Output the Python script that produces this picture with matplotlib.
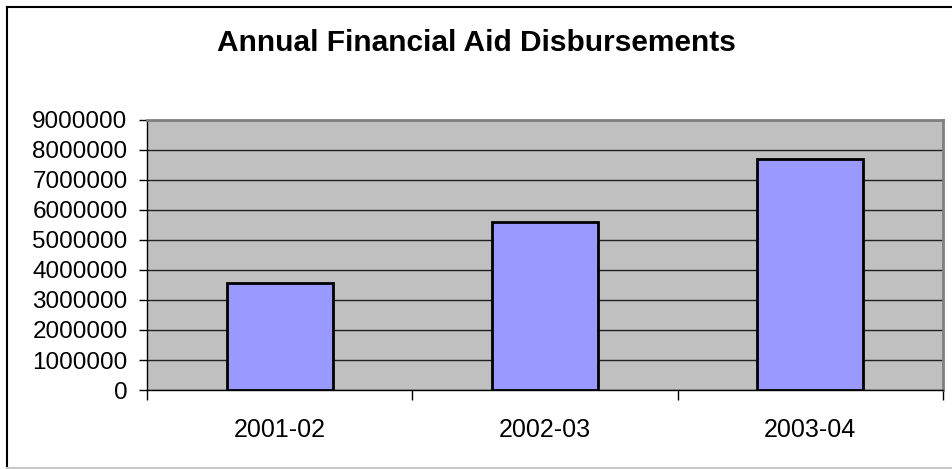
import matplotlib
matplotlib.use("Agg")
import matplotlib.pyplot as plt
from matplotlib.lines import Line2D
import numpy as np

plt.rcParams["font.family"] = ["Liberation Sans", "DejaVu Sans"]

years = ["2001-02", "2002-03", "2003-04"]
disbursements = [3570000, 5610000, 7700000]
y_ticks = [0, 1000000, 2000000, 3000000, 4000000, 5000000,
           6000000, 7000000, 8000000, 9000000]

_BAR_COLOR = "#9999FF"
_PLOT_BG = "#C0C0C0"


def _main():
    fig = plt.figure(figsize=(9.52, 4.69), dpi=100)
    ax = fig.add_axes([147 / 952, 79 / 469, 796 / 952, 270 / 469])
    ax.set_facecolor(_PLOT_BG)

    x = np.arange(len(years))
    ax.bar(x, disbursements, width=0.4, color=_BAR_COLOR,
           edgecolor="black", linewidth=2, zorder=3)

    ax.set_xlim(-0.5, len(years) - 0.5)
    ax.set_ylim(0, 9000000)
    ax.set_yticks(y_ticks)
    ax.set_yticklabels([str(v) for v in y_ticks], fontsize=17.5)
    ax.yaxis.grid(True, color="#202020", linewidth=1, zorder=1)
    ax.set_axisbelow(True)

    # category labels centred, ticks at category boundaries
    ax.set_xticks(np.arange(-0.5, len(years), 1.0))
    ax.set_xticklabels([])
    ax.set_xticks(x, minor=True)
    ax.set_xticklabels(years, minor=True, fontsize=18)
    ax.tick_params(axis="x", which="major", length=7, width=1, color="black",
                   direction="out")
    ax.tick_params(axis="x", which="minor", length=0, pad=20)
    ax.tick_params(axis="y", length=6, width=1, color="black", pad=8)

    for side in ("top", "right"):
        ax.spines[side].set_color("#808080")
        ax.spines[side].set_linewidth(2)
    for side in ("left", "bottom"):
        ax.spines[side].set_color("black")
        ax.spines[side].set_linewidth(1)

    fig.text(0.5, 1 - 43 / 469, "Annual Financial Aid Disbursements",
             ha="center", va="center", fontsize=21.5, fontweight="bold")

    # chart area border
    fig.add_artist(Line2D([7 / 952, 7 / 952], [1 - 7 / 469, 1 - 468 / 469],
                          color="black", linewidth=1.5))
    fig.add_artist(Line2D([7 / 952, 1.0], [1 - 7 / 469, 1 - 7 / 469],
                          color="black", linewidth=1.5))
    fig.add_artist(Line2D([7 / 952, 1.0], [1 - 468 / 469, 1 - 468 / 469],
                          color="#C8C8C8", linewidth=1.5))

    fig.savefig("out.png", dpi=100)


if __name__ == "__main__":
    _main()
